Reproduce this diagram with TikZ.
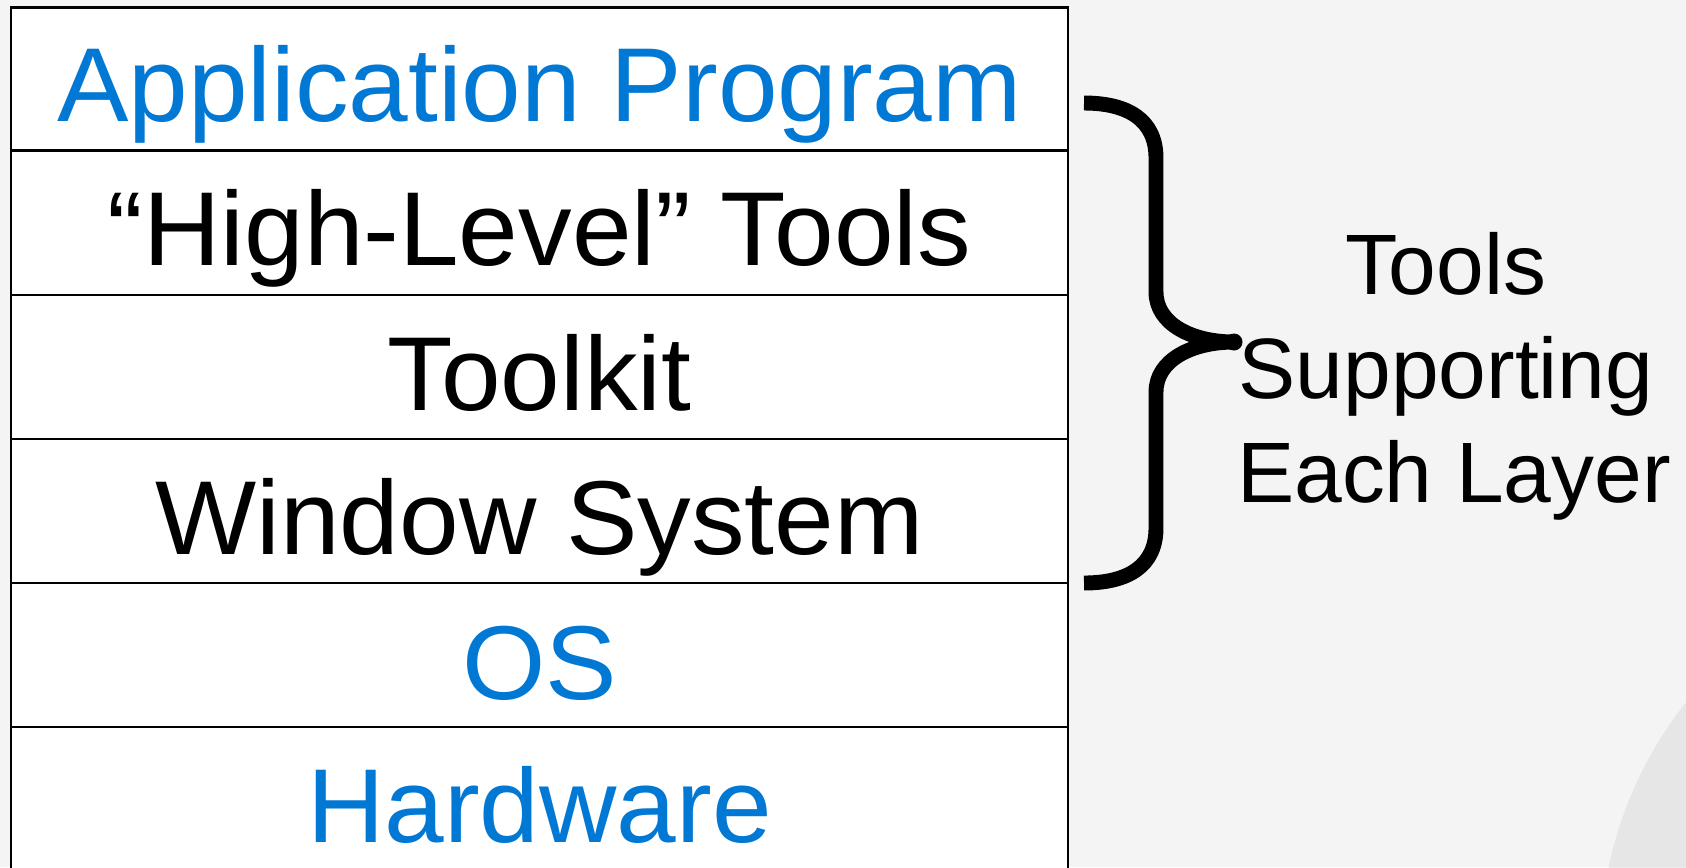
\documentclass[tikz,border=0pt]{standalone}
\usepackage{fontspec}
\setmainfont{Liberation Sans}
\definecolor{layerblue}{HTML}{0078D4}
\definecolor{pagegray}{HTML}{F4F4F4}
\definecolor{swoosh}{HTML}{DEDEDE}
\begin{document}
\begin{tikzpicture}[x=0.02cm,y=-0.02cm,
  layerline/.style={draw=black,line width=1.2pt},
  layertext/.style={anchor=base,inner sep=0pt,xscale=1.02,font=\fontsize{59.8}{70}\selectfont},
  sidetext/.style={anchor=base,inner sep=0pt,font=\fontsize{48.8}{58}\selectfont},
  bracestroke/.style={line width=8.5pt,line join=round,line cap=butt}]
  % page and backdrop
  \fill[pagegray] (0,0) rectangle (1686,867);
  \useasboundingbox (0,0) rectangle (1686,867);
  \fill[swoosh,opacity=0.6] (2000,950) circle (400);
  % layer stack
  \fill[white] (11,7.5) rectangle (1068,880);
  \draw[layerline] (11,880) -- (11,7.5) -- (1068,7.5) -- (1068,880);
  \foreach \yy in {150.5,294.6,438.7,582.8,726.9}
    \draw[layerline] (11,\yy) -- (1068,\yy);
  \node[layertext,text=layerblue] (app) at (539.5,121.5) {Application Program};
  \node[layertext] (hlt) at (539.5,265.5) {“High-Level” Tools};
  \node[layertext] (tk) at (539.5,410) {Toolkit};
  \node[layertext] (ws) at (539.5,554.5) {Window System};
  \node[layertext,text=layerblue] (os) at (539.5,699) {OS};
  \node[layertext,text=layerblue] (hw) at (539.5,842.5) {Hardware};
  % brace spanning the middle layers
  \coordinate (btop) at (1084,103);
  \coordinate (btip) at (1234,342);
  \coordinate (bbot) at (1084,583);
  \draw[bracestroke] (btop) .. controls (1128,103) and (1156,120) .. (1156,158)
    -- (1156,292) .. controls (1156,324) and (1192,342) .. (btip)
    .. controls (1192,342) and (1156,360) .. (1156,392)
    -- (1156,528) .. controls (1156,566) and (1128,583) .. (bbot);
  \fill (btip) circle (8.5);
  % side label
  \node[sidetext] (l1) at (1446,294) {Tools};
  \node[sidetext] (l2) at (1446,398) {Supporting};
  \node[sidetext] (l3) at (1454,502) {Each Layer};
\end{tikzpicture}
\end{document}
